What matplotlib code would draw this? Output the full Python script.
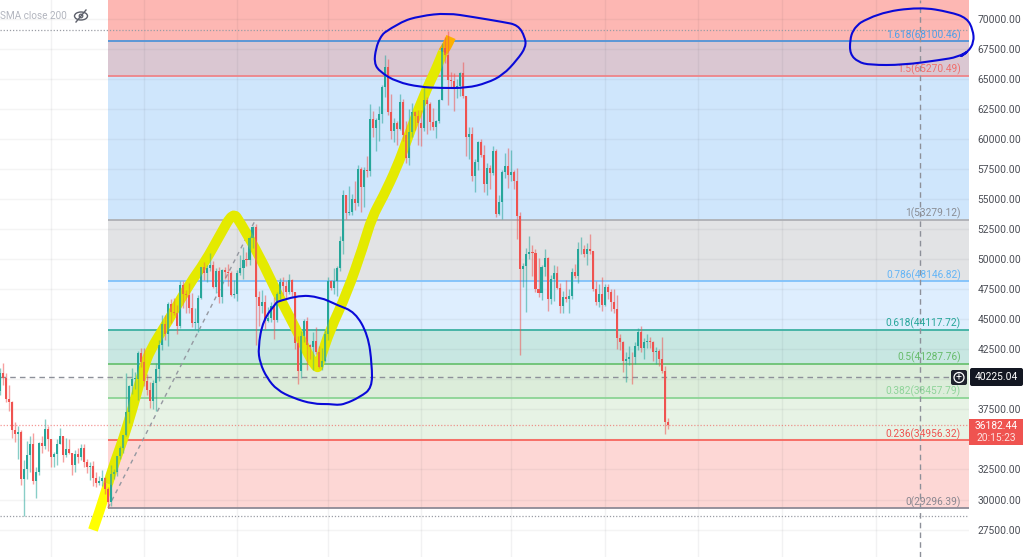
import matplotlib
matplotlib.use("Agg")
import matplotlib.pyplot as plt
from matplotlib.patches import Ellipse, FancyBboxPatch, Rectangle, Circle, PathPatch
from matplotlib.path import Path

plt.rcParams['font.family'] = ['Roboto', 'DejaVu Sans']

# Daily candles, one row per month (Jun 14 .. Jan 22)
opens = [
    39000,40500,40150,38340,38090,35820,35480,35600,31680,32500,33680,34660,31570,32270,34680,34480,35860,
    35040,33500,33790,34660,35290,33690,34220,33860,32870,33810,33500,34260,33090,32730,32820,31780,31390,31530,31780,30840,29790,32140,32290,33640,34260,35380,37270,39460,40020,40030,42220,
    41460,39850,39150,38190,39720,40890,42830,44610,43800,46290,45600,45550,44420,47830,47110,47020,45900,44690,44710,46760,49340,48870,49280,49520,47670,48970,46840,49070,48900,48810,46990,
    47110,48830,49250,49940,49920,51760,52660,46860,46070,46400,44850,45140,46060,44960,47090,48130,47760,47300,48290,47240,42990,40720,43570,44890,42840,42700,43170,42240,41030,41520,
    43790,48140,47630,48200,49220,51470,55340,53800,53950,54960,54690,57480,56010,57370,57350,61670,60880,61530,62040,64280,66000,62210,60690,61300,60860,63080,60330,58450,60590,62270,61890,
    61320,60930,63220,62930,61440,60970,61450,63270,67530,66940,64880,64780,64140,64400,65500,63600,60160,60370,56940,58100,59700,58670,56280,57570,57160,58960,53720,54710,57270,57780,
    56990,57220,56510,53600,49150,49400,50440,50590,50480,47550,47140,49380,50050,46700,48340,48860,47630,46130,46830,46680,46910,48940,48630,50820,50840,50430,50800,50700,47540,46460,47120,
    46220,47720,47290,46450,45830,43430,43100,41560,41730,41860,41820,42730,43920,42590,43100,43180,43110,42250,42370,41660,40680,36460,
]
highs = [
    40980,41330,40530,39560,38200,36460,36140,35750,33300,34880,35300,35500,32730,34750,35300,36670,36100,
    35040,33980,35000,35950,35290,35120,35050,33900,34100,34260,34600,34660,33340,33110,33170,32250,31950,32440,31890,31060,32860,32580,33650,34490,35400,40550,39540,40900,40640,42320,42600,
    42600,40470,39780,39970,41360,43270,45310,45350,46450,46670,46740,46200,48140,48160,47400,48050,47150,45950,47030,49380,49750,49500,50500,49860,49250,49340,49180,49310,49630,49000,48250,
    49100,50360,51000,50560,51900,52780,52950,47350,47400,47040,45980,46450,46880,47250,48450,48490,48160,48800,48360,47300,43630,44000,45000,45150,42970,43900,44350,42780,42600,44130,
    48500,48300,49250,49450,51900,55750,55350,56100,55450,56500,57800,57680,57700,58550,62900,62350,61700,62700,64500,67000,66650,63730,61750,61500,63700,63300,61500,62500,62950,62350,62420,
    62400,64300,63500,63100,62600,61560,63300,68000,68500,69000,65600,65500,65000,65600,66400,63600,61000,60950,58350,59850,60000,59500,58000,57800,59400,59150,55300,57450,58850,59200,
    59050,57400,57600,53900,49700,50900,51950,51200,50800,50100,49500,50800,50200,48650,49500,49450,48000,47350,48300,47550,49300,49600,51400,51850,51150,51300,52100,50700,48150,47900,48550,
    47950,47950,47550,47500,47050,43750,43150,42300,42800,42250,43100,44300,44450,43450,43800,43500,43200,42650,42550,43500,41100,36780,
]
lows = [
    38730,39510,38120,37370,35130,34820,33350,31250,28600,31680,32260,31270,30150,32000,33860,34230,34000,
    32710,32700,32850,34620,33130,33510,33770,32080,32260,33000,33320,32690,32200,31600,31130,31020,31170,31100,30500,29296,29480,31710,31950,33400,33850,35250,36400,38770,39200,38310,41030,
    39420,38700,37640,37510,37330,39850,42450,43300,42790,44700,45350,43790,44240,45950,45520,45500,44380,44200,43950,46690,48300,48100,49040,47600,47150,46370,46360,48350,47800,46900,46750,
    46520,48650,48360,49420,49500,50950,42840,44410,45520,44160,44750,44740,43370,44750,46720,47050,46730,47080,46830,42500,39600,40100,43100,40750,41650,40750,42120,40900,40800,41400,
    43300,47400,47100,46900,49050,50400,53350,53650,53700,54100,54400,53900,54300,56800,56900,60150,58950,59850,61300,63500,62000,60000,59700,59500,60700,59800,58000,57800,60150,60700,59500,
    59400,60650,60400,60700,60700,60100,61350,63200,66300,62800,64200,62300,63400,63600,63400,58550,58350,56500,55600,57400,58500,55600,55300,55850,57000,53500,53650,53300,56750,55900,
    56500,55800,51700,42000,47700,45600,50000,48600,47300,46850,46600,48600,45700,46300,46500,47550,45500,45500,46400,45550,46650,48450,48050,50450,50200,49500,50450,47350,46150,46000,45700,
    46100,46650,45700,45500,42500,42450,40600,39750,41200,39650,41250,42450,42300,41700,42600,42600,41550,41250,41100,40550,35450,35900,
]
closes = [
    40500,40150,38340,38090,35820,35480,35600,31680,32500,33680,34660,31570,32270,34680,34480,35860,35040,
    33500,33790,34660,35290,33690,34220,33860,32870,33810,33500,34260,33090,32730,32820,31780,31390,31530,31780,30840,29790,32140,32290,33640,34260,35380,37270,39460,40020,40030,42220,41460,
    39850,39150,38190,39720,40890,42830,44610,43800,46290,45600,45550,44420,47830,47110,47020,45900,44690,44710,46760,49340,48870,49280,49520,47670,48970,46840,49070,48900,48810,46990,47110,
    48830,49250,49940,49920,51760,52660,46860,46070,46400,44850,45140,46060,44960,47090,48130,47760,47300,48290,47240,42990,40720,43570,44890,42840,42700,43170,42240,41030,41520,43790,
    48140,47630,48200,49220,51470,55340,53800,53950,54960,54690,57480,56010,57370,57350,61670,60880,61530,62040,64280,66000,62210,60690,61300,60860,63080,60330,58450,60590,62270,61890,61320,
    60930,63220,62930,61440,60970,61450,63270,67530,66940,64880,64780,64140,64400,65500,63600,60160,60370,56940,58100,59700,58670,56280,57570,57160,58960,53720,54710,57270,57780,56990,
    57220,56510,53600,49150,49400,50440,50590,50480,47550,47140,49380,50050,46700,48340,48860,47630,46130,46830,46680,46910,48940,48630,50820,50840,50430,50800,50700,47540,46460,47120,46220,
    47720,47290,46450,45830,43430,43100,41560,41730,41860,41820,42730,43920,42590,43100,43180,43110,42250,42370,41660,40680,36460,36182,
]

# Fib retracement levels
fib_ratios = ['1.618', '1.5', '1', '0.786', '0.618', '0.5', '0.382', '0.236', '0']
fib_prices = [68100.46, 65270.49, 53279.12, 48146.82, 44117.72, 41287.76, 38457.79, 34956.32, 29296.39]
fib_line_colors = ['#4f94d8', '#ee8488', '#aeb0b5', '#7fc1fb', '#3db0a2', '#6cc274', '#8cd495', '#f7665e', '#8e8a96']
fib_text_colors = ['#4d9fe8', '#ef6f6c', '#8a8d94', '#64b5f6', '#26a69a', '#66bb6a', '#8fd49a', '#ef5350', '#8a8790']
fib_band_colors = ['#dac7d2', '#cfe6fc', '#e2e3e5', '#deeefe', '#c8e7e2', '#dcedda', '#e7f3e5', '#fdd7d5']
top_band_color = '#fdb7b3'

tick_prices = [27500, 30000, 32500, 37500, 42500, 45000, 47500, 50000, 52500, 55000, 57500, 60000, 62500, 65000, 67500, 70000]
grid_prices = [27500 + 2500 * k for k in range(18)]
month_bars = [17, 48, 79, 109, 140, 170, 201, 232, 260, 291]

swing_low_bar, swing_high_bar = 36, 85
cross_price = 40225.04
cross_bar = 305.8
last_price = 36182.44
high_dot, low_dot = 69056, 28600

# pen strokes drawn on top of the screenshot (pixel positions of the scribbles)
yellow_white_x = [93,100,108]
yellow_white_y = [530,510,484]
yellow_x = [108,113,123,133,143,150,167,190,205,220,233,240,260,277,293,317,320,330,347,363,372,383,397,407,423,437,443]
yellow_y = [484,467,440,407,370,350,323,283,262,235,212,222,257,293,323,372,360,330,293,247,217,197,167,140,97,67,52]
orange_x = [443,447,451]
orange_y = [52,46,37]
ring_top_x = [384,400,420,447,473,503,518,525,526,517,503,487,467,440,420,397,380,374,376,380,384]
ring_top_y = [33,22,16,13,17,22,25,37,47,60,75,83,88,88,87,82,72,63,48,38,33]
ring_low_x = [277,297,320,337,355,368,372,372,360,345,337,330,313,293,277,267,260,258,263,277]
ring_low_y = [302,295,297,305,312,335,365,388,397,404,405,404,404,398,390,378,363,348,320,302]
ring_right_x = [860,877,920,950,967,973,974,968,958,970,958,940,903,870,858,850,850,853,860]
ring_right_y = [23,13,7,12,18,30,42,52,58,50,57,60,65,65,62,54,40,30,23]


def pen_path(xs, ys):
    # quadratic segments through the midpoints, so the stroke reads as a hand drawn curve
    verts = [(xs[0], ys[0])]
    codes = [Path.MOVETO]
    for i in range(1, len(xs) - 1):
        verts += [(xs[i], ys[i]), ((xs[i] + xs[i + 1]) / 2, (ys[i] + ys[i + 1]) / 2)]
        codes += [Path.CURVE3, Path.CURVE3]
    verts.append((xs[-1], ys[-1]))
    codes.append(Path.LINETO)
    return Path(verts, codes)


fig = plt.figure(figsize=(10.24, 5.57), dpi=100)
ax = fig.add_axes([0, 0, 969 / 1024, 1])
ax.set_xlim(0.12, 322.0)
ax.set_ylim(25220, 71551)
for side in ax.spines.values():
    side.set_visible(False)

ink = fig.add_axes([0, 0, 1, 1], facecolor='none')
ink.set_xlim(0, 1024)
ink.set_ylim(557, 0)
ink.axis('off')

# bands between fib levels, running to the right edge
right = ax.get_xlim()[1]
ax.fill_between([swing_low_bar, right], fib_prices[0], ax.get_ylim()[1], color=top_band_color, lw=0, zorder=1)
for k, col in enumerate(fib_band_colors):
    ax.fill_between([swing_low_bar, right], fib_prices[k + 1], fib_prices[k], color=col, lw=0, zorder=1)
for p, col in zip(fib_prices, fib_line_colors):
    ax.hlines(p, swing_low_bar, right, color=col, lw=1.3, zorder=2)

# grid
for p in grid_prices:
    ax.axhline(p, color='#2a2e39', alpha=0.05, lw=1, zorder=1.5)
for b in month_bars:
    ax.axvline(b, color='#2a2e39', alpha=0.06, lw=1, zorder=1.5)

# price lines
ax.axhline(high_dot, color='#9a9da5', lw=0.9, ls=(0, (1, 1.5)), zorder=2.2)
ax.axhline(low_dot, color='#9a9da5', lw=0.9, ls=(0, (1, 1.5)), zorder=2.2)
ax.axhline(last_price, color='#ef5350', alpha=0.6, lw=0.9, ls=(0, (1, 1.5)), zorder=2.2)
ax.hlines(cross_price, ax.get_xlim()[0], 316, color='#8d9099', lw=1, ls=(0, (4, 3)), zorder=2.3)
ax.axvline(cross_bar, color='#8d9099', lw=1, ls=(0, (4, 3)), zorder=2.3)
ax.plot([swing_low_bar, swing_high_bar], [fib_prices[-1], fib_prices[2]], color='#9598a1', lw=1, ls=(0, (3, 3)), zorder=2.4)

# highlighter goes under the candles, the pen multiplies over them in the screenshot
for xs, ys, col in [(yellow_white_x, yellow_white_y, '#ffff00'), (yellow_x, yellow_y, '#e4ea00'), (orange_x, orange_y, '#fdb000')]:
    ax.add_patch(PathPatch(pen_path(xs, ys), fc='none', ec=col, lw=7.2, capstyle='butt', joinstyle='round',
                           transform=ink.transData, zorder=2.8))

# candles
bars = list(range(len(closes)))
colors = ['#26a69a' if c >= o else '#ef5350' for o, c in zip(opens, closes)]
ax.vlines(bars, lows, highs, colors=colors, lw=1, alpha=0.55, zorder=3)
ax.bar(bars, [max(abs(c - o), 60) for o, c in zip(opens, closes)],
       bottom=[min(o, c) for o, c in zip(opens, closes)],
       width=0.68, color=colors, lw=0, zorder=3.2)

# thin yellow tint on top of the candles
ax.add_patch(PathPatch(pen_path(yellow_x, yellow_y), fc='none', ec='#e4ea00', alpha=0.25, lw=7.2, capstyle='butt',
                       joinstyle='round', transform=ink.transData, zorder=3.4))

# fib labels
for ratio, p, col in zip(fib_ratios, fib_prices, fib_text_colors):
    ax.annotate(f"{ratio}({p:.2f})", xy=(1, p), xycoords=('axes fraction', 'data'),
                xytext=(-6, 0.3), textcoords='offset points', ha='right', va='bottom',
                color=col, fontsize=7.3, zorder=4)

# price scale
ax.set_xticks([])
ax.yaxis.tick_right()
ax.set_yticks(tick_prices)
ax.set_yticklabels([f"{p:.2f}" for p in tick_prices], color='#4a4d55', fontsize=7.4)
ax.tick_params(axis='y', length=0, pad=6)

# blue rings
for xs, ys in [(ring_top_x, ring_top_y), (ring_low_x, ring_low_y), (ring_right_x, ring_right_y)]:
    ink.add_patch(PathPatch(pen_path(xs, ys), fc='none', ec='#0a0ad8', lw=1.5, joinstyle='round', zorder=6))

# legend stub top left
ink.text(0, 16, "SMA close 200", color='#b2b5be', fontsize=7.2, va='center', ha='left')
ink.add_patch(Ellipse((81, 16), 13, 8, fill=False, ec='#5d606b', lw=1))
ink.add_patch(Circle((81, 16), 1.8, fill=False, ec='#5d606b', lw=0.9))
ink.plot([76, 86], [22, 10], color='#5d606b', lw=1)

# crosshair tag
ink.add_patch(FancyBboxPatch((951, 370), 16, 15, boxstyle='round,pad=0,rounding_size=2', fc='#1e222d', ec='none', zorder=7))
ink.add_patch(Circle((959, 377.5), 5, fill=False, ec='white', lw=0.9, zorder=8))
ink.text(959, 377.5, "+", color='white', fontsize=7.5, ha='center', va='center', zorder=8)
ink.add_patch(FancyBboxPatch((970, 368), 53, 18, boxstyle='round,pad=0,rounding_size=2', fc='#131722', ec='none', zorder=7))
ink.text(996.5, 377.5, "40225.04", color='white', fontsize=7.4, ha='center', va='center', zorder=8)

# last price tag
ink.add_patch(Rectangle((969, 419), 54, 26, fc='#ef5350', ec='none', zorder=7))
ink.text(996, 426, "36182.44", color='white', fontsize=7.4, ha='center', va='center', zorder=8)
ink.text(996, 438, "20:15:23", color='#fde0df', fontsize=7.4, ha='center', va='center', zorder=8)

fig.savefig("out.png", dpi=100)
